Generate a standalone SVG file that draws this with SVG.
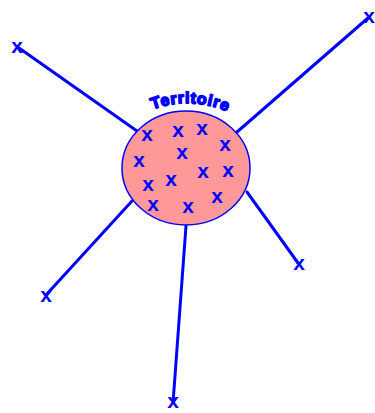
<svg xmlns="http://www.w3.org/2000/svg" width="375" height="413" viewBox="0 0 375 413">
<style>
.ln{stroke:#0000ff;stroke-width:3;fill:none;stroke-linecap:round}
.x{font-family:"Liberation Sans",Arial,sans-serif;font-weight:bold;font-size:21px;fill:#0000ff;text-anchor:middle}
.lbl{font-family:"Liberation Sans",Arial,sans-serif;font-weight:bold;font-size:16px;fill:#0000ff;stroke:#0000ff;stroke-width:1.6;stroke-linejoin:round;letter-spacing:0.8px}
</style>
<defs>
<path id="arc" d="M 146,112 A 100,100 0 0 1 234,115"/>
</defs>
<g id="connectors">
<line class="ln" x1="19" y1="48" x2="137" y2="131"/>
<line class="ln" x1="368" y1="18" x2="237" y2="132"/>
<line class="ln" x1="46" y1="295" x2="132" y2="201"/>
<line class="ln" x1="298" y1="263" x2="247" y2="192"/>
<line class="ln" x1="186" y1="226" x2="173" y2="403"/>
</g>
<g id="territoire">
<ellipse cx="186" cy="168" rx="64" ry="57" fill="#ff9999" stroke="#0000ff" stroke-width="1.5"/>
<text class="lbl"><textPath href="#arc" startOffset="50%" text-anchor="middle">Territoire</textPath></text>
<text class="x" x="147" y="141">x</text>
<text class="x" x="178" y="137">x</text>
<text class="x" x="202" y="135">x</text>
<text class="x" x="225" y="151">x</text>
<text class="x" x="139" y="167">x</text>
<text class="x" x="182" y="159">x</text>
<text class="x" x="228" y="177">x</text>
<text class="x" x="203" y="178">x</text>
<text class="x" x="171" y="186">x</text>
<text class="x" x="148" y="191">x</text>
<text class="x" x="217" y="203">x</text>
<text class="x" x="153" y="211">x</text>
<text class="x" x="188" y="213">x</text>
</g>
<g id="n1"><text class="x" x="17" y="53">x</text></g>
<g id="n2"><text class="x" x="369" y="23">x</text></g>
<g id="n3"><text class="x" x="46" y="302">x</text></g>
<g id="n4"><text class="x" x="299" y="270">x</text></g>
<g id="n5"><text class="x" x="173" y="408">x</text></g>
</svg>
